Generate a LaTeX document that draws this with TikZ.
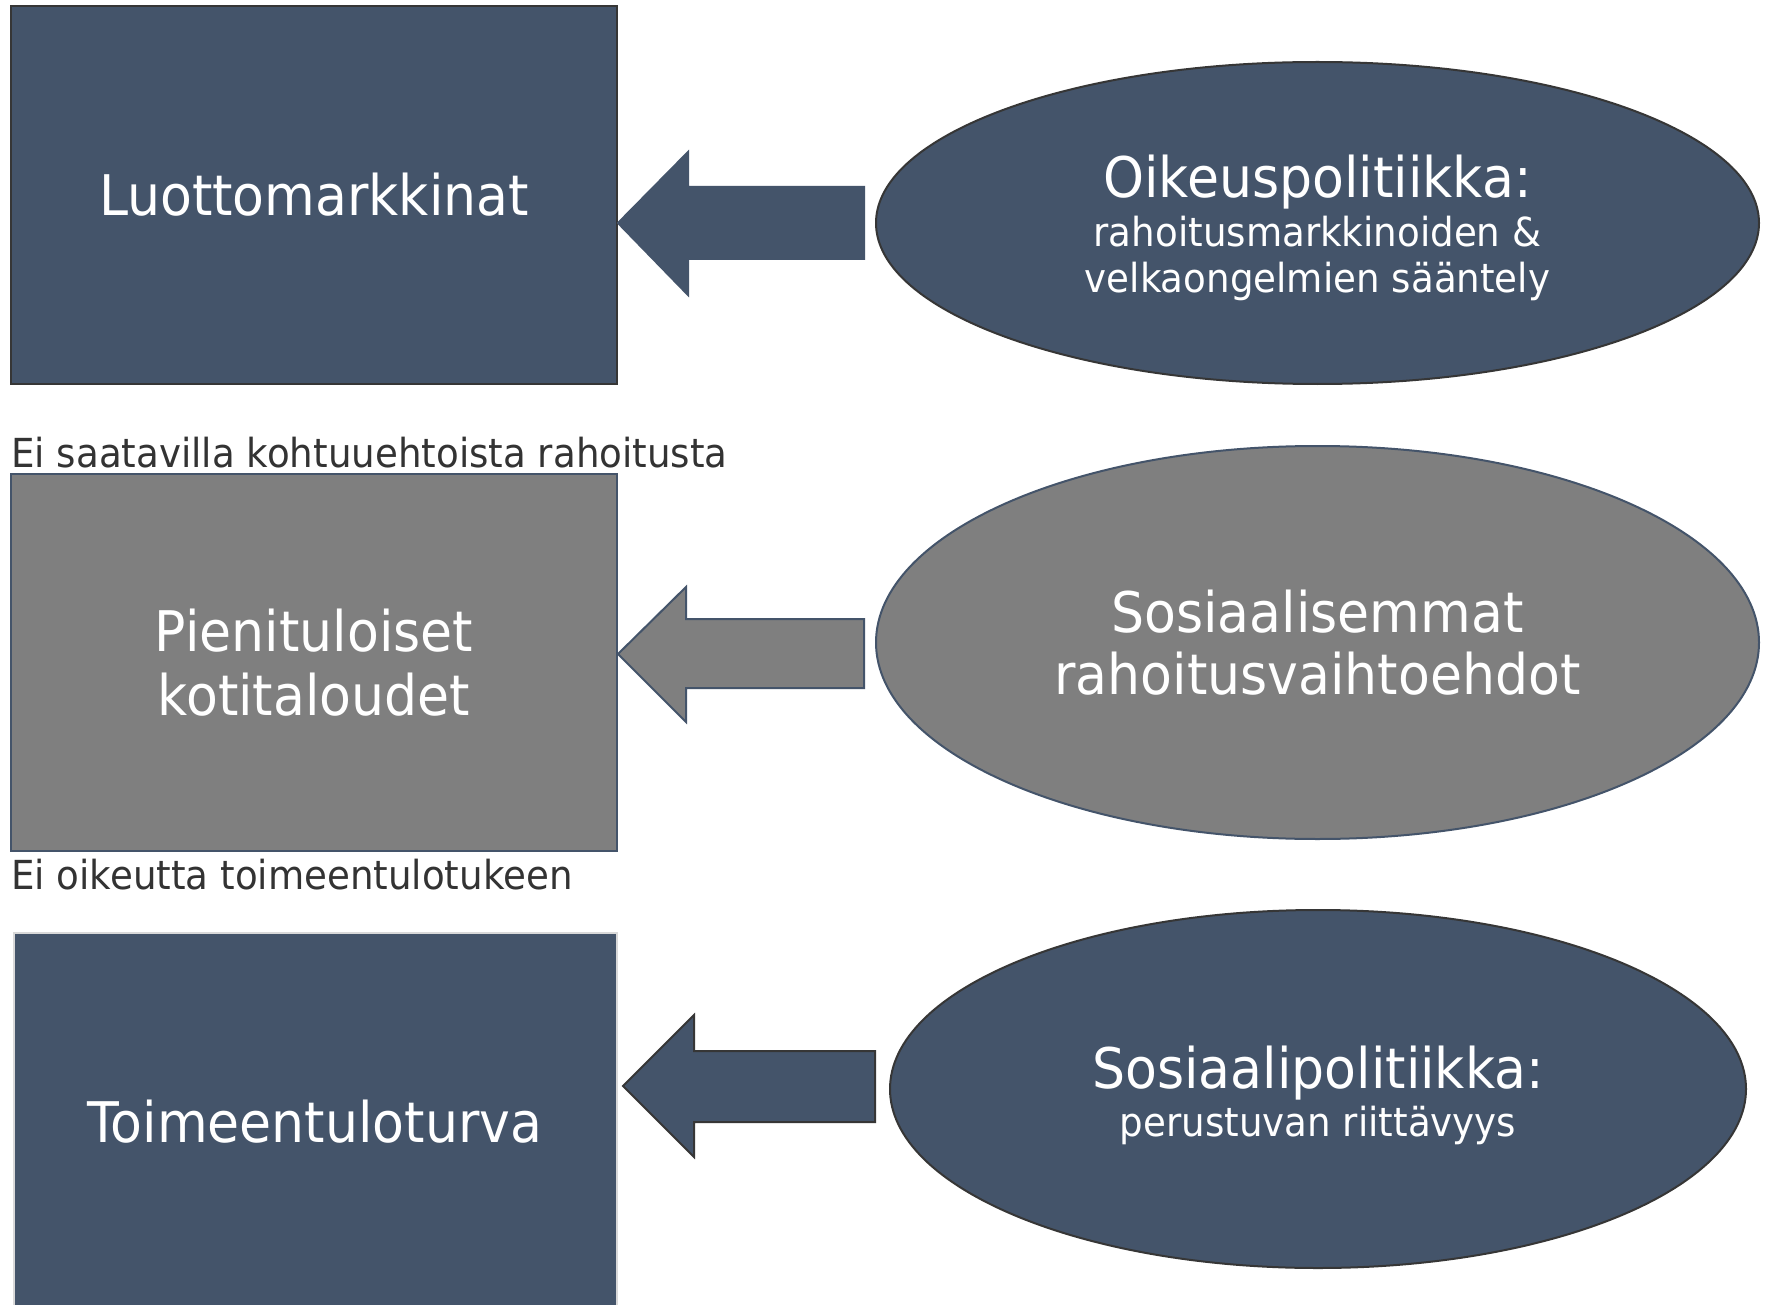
\documentclass[tikz,border=0pt]{standalone}
\usepackage{fontspec}
\usetikzlibrary{shapes.geometric}
\setmainfont{DejaVu Sans}[FakeStretch=0.93]
\newcommand\dgBig{\fontsize{56}{64}\selectfont}
\newcommand\dgSmall{\fontsize{40}{45}\selectfont}
\definecolor{slate}{HTML}{44546A}
\definecolor{midgray}{HTML}{7F7F7F}
\definecolor{dkline}{HTML}{363636}
\definecolor{ltline}{HTML}{D9D9D9}
\definecolor{lbltext}{HTML}{333333}
\begin{document}
\begin{tikzpicture}[x=1pt,y=-1pt,
  box/.style={rectangle, inner sep=0pt, line width=2pt, text=white, align=center, font=\dgBig},
  ell/.style={ellipse, inner sep=0pt, line width=2pt, text=white, align=center, font=\dgBig},
  lbl/.style={inner sep=0pt, text=lbltext, font=\dgSmall, anchor=base west},
  blk/.style={line width=2pt, line join=miter}]
\path[use as bounding box] (0,0) rectangle (1766,1305);
\clip (0,0) rectangle (1766,1305);
\fill[white] (0,0) rectangle (1766,1305);

% left boxes
\node[box, fill=slate, draw=dkline, minimum width=606pt, minimum height=378pt] (b1) at (314,195) {Luottomarkkinat};
\node[box, fill=midgray, draw=slate, minimum width=606pt, minimum height=377pt] (b2) at (314,662.5) {Pienituloiset\\kotitaloudet};
\node[box, fill=slate, draw=ltline, minimum width=603pt, minimum height=378pt] (b3) at (315,1122) {Toimeentuloturva};

% labels
\node[lbl] (l1) at (11,467) {Ei saatavilla kohtuuehtoista rahoitusta};
\node[lbl] (l2) at (11,889) {Ei oikeutta toimeentulotukeen};

% ellipses
\node[ell, fill=slate, draw=dkline, minimum width=883pt, minimum height=322pt] (e1) at (1317.5,223)
  {\rule{0pt}{52pt}Oikeuspolitiikka:\\[-15pt]{\dgSmall rahoitusmarkkinoiden \&}\\[-18pt]{\dgSmall velkaongelmien sääntely}};
\node[ell, fill=midgray, draw=slate, minimum width=883pt, minimum height=393pt] (e2) at (1317.5,642.5)
  {Sosiaalisemmat\\[-2pt]rahoitusvaihtoehdot};
\node[ell, fill=slate, draw=dkline, minimum width=856pt, minimum height=358pt] (e3) at (1318,1089)
  {\rule{0pt}{54.5pt}Sosiaalipolitiikka:\\[-16pt]{\dgSmall perustuvan riittävyys}};

% block arrows
\coordinate (t1) at (618,223);
\coordinate (t2) at (618,654);
\coordinate (t3) at (623,1086);
\draw[blk, fill=slate, draw=slate] (t1) -- ++(70,-71) -- ++(0,35) -- (864,187) -- (864,259) -- (688,259) -- ++(0,36) -- cycle;
\draw[blk, fill=midgray, draw=slate] (t2) -- ++(68,-67) -- ++(0,32) -- (864,619) -- (864,688) -- (686,688) -- ++(0,34) -- cycle;
\draw[blk, fill=slate, draw=dkline] (t3) -- ++(71,-71) -- ++(0,36) -- (875,1051) -- (875,1122) -- (694,1122) -- ++(0,35) -- cycle;
\end{tikzpicture}
\end{document}
